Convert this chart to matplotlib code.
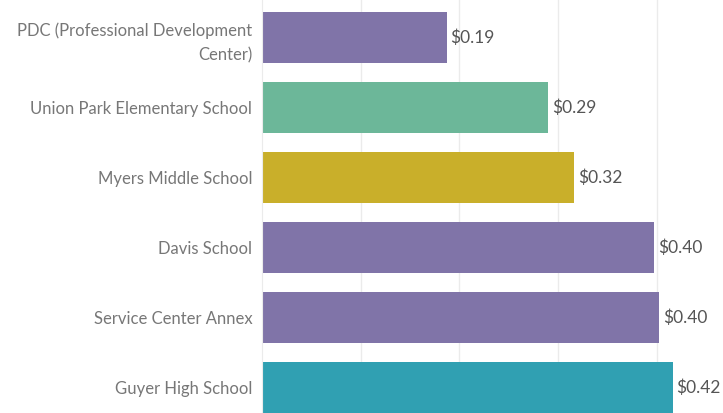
import matplotlib.pyplot as plt

# data
schools = ['PDC (Professional Development\nCenter)', 'Union Park Elementary School',
           'Myers Middle School', 'Davis School', 'Service Center Annex', 'Guyer High School']
cost = [0.187, 0.290, 0.316, 0.397, 0.402, 0.416]
colors = ['#8074A8', '#6CB799', '#C9AF2A', '#8074A8', '#8074A8', '#30A0B2']

plt.rcParams['font.family'] = ['Lato', 'DejaVu Sans']

fig = plt.figure(figsize=(7.23, 4.13), dpi=100)
ax = fig.add_axes([262 / 723, 0, 1 - 262 / 723, 1])

ypos = list(range(len(schools)))
bars = ax.barh(ypos, cost, height=0.73, color=colors, zorder=2)

for b, v in zip(bars, cost):
    ax.text(b.get_width() + 0.004, b.get_y() + b.get_height() / 2, f'${v:.2f}',
            va='center', ha='left', fontsize=12.5, color='#555555')

ax.set_xlim(0, 0.467)
ax.set_ylim(5.36, -0.536)
ax.set_yticks(ypos)
ax.set_yticklabels(schools, fontsize=12, color='#777777', ha='right', linespacing=1.6)
ax.tick_params(axis='y', length=0, pad=7)
ax.set_xticks([0.1, 0.2, 0.3, 0.4])
ax.tick_params(axis='x', length=0, labelbottom=False)
ax.grid(axis='x', color='#EBEBEB', linewidth=1, zorder=0)
for s in ['top', 'right', 'bottom']:
    ax.spines[s].set_visible(False)
ax.spines['left'].set_color('#EBEBEB')

plt.savefig('out.png', dpi=100)
